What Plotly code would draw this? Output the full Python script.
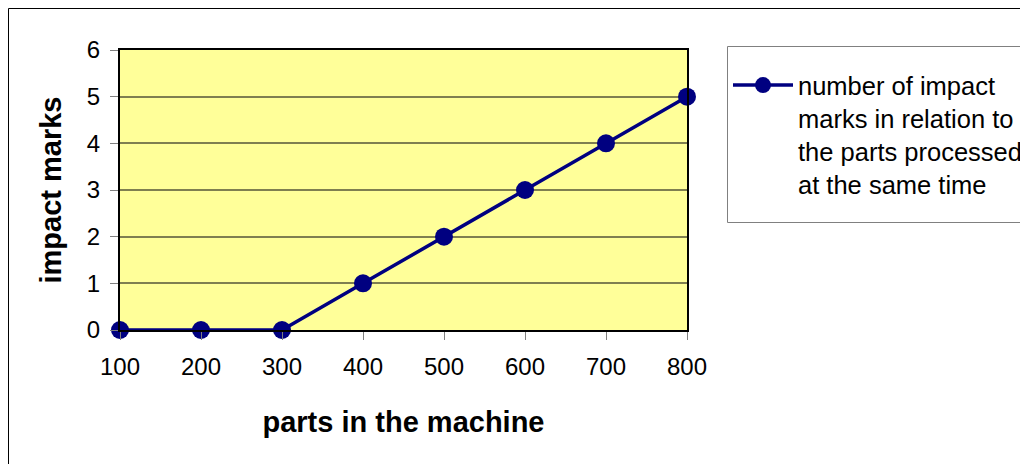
import plotly.graph_objects as go

parts = [100, 200, 300, 400, 500, 600, 700, 800]
impact_marks = [0, 0, 0, 1, 2, 3, 4, 5]
series_name = "number of impact<br>marks in relation to<br>the parts processed<br>at the same time"
x_title = "parts in the machine"
y_title = "impact marks"

# page is offset by the 8px body margin
OFF = 8
W, H = 1028 - OFF, 464 - OFF
L, R, T, B = 120 - OFF, W - (687 - OFF), 50 - OFF, H - (330 - OFF)
pw, ph = W - L - R, H - T - B

def px_x(p):
    return (p - OFF - L) / pw

def px_y(p):
    return (H - B - (p - OFF)) / ph

FONT = "Liberation Sans, Arial, sans-serif"

fig = go.Figure()
fig.add_trace(go.Scatter(
    x=parts, y=impact_marks, mode="lines+markers", name=series_name,
    line=dict(color="#000080", width=3.5),
    marker=dict(color="#000080", size=18, symbol="circle"),
    cliponaxis=False,
))

fig.update_layout(
    width=W, height=H,
    margin=dict(l=L, r=R, t=T, b=B, pad=0, autoexpand=False),
    paper_bgcolor="white",
    plot_bgcolor="#FFFF99",
    font=dict(family=FONT, size=24, color="black"),
    showlegend=True,
    legend=dict(
        x=px_x(728), y=px_y(62), xanchor="left", yanchor="top",
        borderwidth=0, bgcolor="rgba(0,0,0,0)",
        font=dict(family=FONT, size=25.5, color="black"),
        valign="top", itemwidth=60,
    ),
    xaxis=dict(
        range=[100, 800], tickvals=parts, ticktext=[str(p) for p in parts],
        showgrid=False, zeroline=False,
        showline=True, linecolor="black", linewidth=2, mirror=True,
        ticks="outside", ticklen=8, tickcolor="#808080", tickwidth=1,
        tickfont=dict(size=24),
        ticklabelstandoff=6,
        title=dict(text="<b>" + x_title + "</b>", font=dict(size=29), standoff=33),
    ),
    yaxis=dict(
        range=[0, 6], dtick=1,
        showgrid=True, gridcolor="#7F7F50", gridwidth=1.8, zeroline=False,
        showline=True, linecolor="black", linewidth=2, mirror=True,
        ticks="outside", ticklen=8, tickcolor="#808080", tickwidth=1,
        tickfont=dict(size=24),
        ticklabelstandoff=5,
        title=dict(text="<b>" + y_title + "</b>", font=dict(size=29), standoff=17),
    ),
    shapes=[
        dict(
            type="rect", xref="paper", yref="paper", layer="below",
            x0=px_x(8.5), x1=px_x(1060), y0=px_y(490), y1=px_y(8.5),
            line=dict(color="black", width=1), fillcolor="rgba(0,0,0,0)",
        ),
        dict(
            type="rect", xref="paper", yref="paper", layer="below",
            x0=px_x(727.5), x1=px_x(1060), y0=px_y(222.5), y1=px_y(46.5),
            line=dict(color="#808080", width=1), fillcolor="white",
        ),
    ],
)

fig.write_html("out.html")
